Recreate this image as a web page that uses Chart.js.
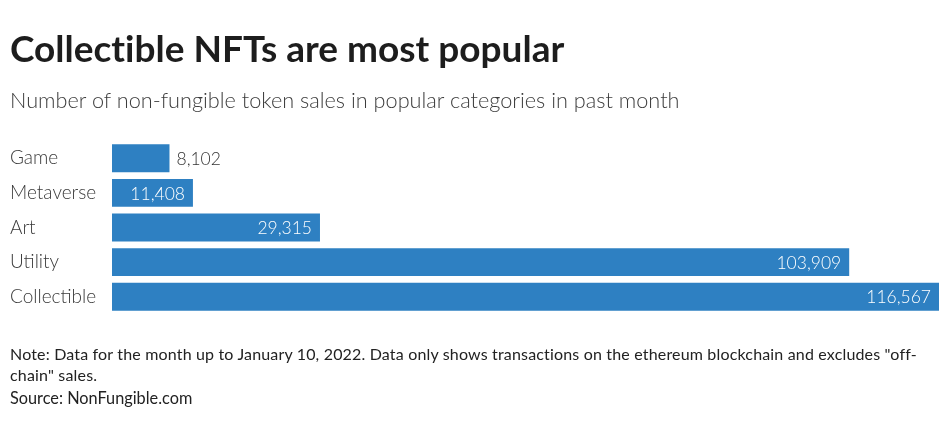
<!DOCTYPE html>
<html>
<head>
<meta charset="utf-8">
<script src="https://cdn.jsdelivr.net/npm/chart.js@4"></script>
<style>
  html,body{margin:0;padding:0;background:#fff;width:951px;height:424px;overflow:hidden;}
  #wrap{position:relative;width:951px;height:424px;}
  canvas{position:absolute;left:0;top:0;}
  .t{position:absolute;left:10px;white-space:nowrap;font-family:Lato,sans-serif;font-variant-ligatures:none;}
  #title{top:25px;font-size:37px;font-weight:700;color:#1d1d1d;}
  #sub{top:87px;font-size:21.7px;font-weight:300;color:#3c3c3c;}
  #note{top:343px;font-size:16px;line-height:21px;color:#222;letter-spacing:0.17px;}
  #src{top:388px;font-size:16.3px;color:#222;}
</style>
</head>
<body>
<div id="wrap">
  <canvas id="c" width="951" height="424"></canvas>
  <div class="t" id="title">Collectible NFTs are most popular</div>
  <div class="t" id="sub">Number of non-fungible token sales in popular categories in past month</div>
  <div class="t" id="note">Note: Data for the month up to January 10, 2022. Data only shows transactions on the ethereum blockchain and excludes "off-<br>chain" sales.</div>
  <div class="t" id="src">Source: NonFungible.com</div>
</div>
<script>
const categories = ["Game", "Metaverse", "Art", "Utility", "Collectible"];
const sales = [8102, 11408, 29315, 103909, 116567];
const valueLabels = ["8,102", "11,408", "29,315", "103,909", "116,567"];

const barColor = "#2e80c2";

const valueLabelPlugin = {
  id: "valueLabels",
  afterDatasetsDraw(chart) {
    const ctx = chart.ctx;
    const meta = chart.getDatasetMeta(0);
    ctx.save();
    ctx.font = "300 17.5px Lato, sans-serif";
    ctx.textBaseline = "middle";
    meta.data.forEach((bar, i) => {
      const txt = valueLabels[i];
      const w = ctx.measureText(txt).width;
      const barW = bar.x - bar.base;
      if (barW < w + 16) {
        ctx.fillStyle = "#333";
        ctx.textAlign = "left";
        ctx.fillText(txt, bar.x + 7, bar.y + 1);
      } else {
        ctx.fillStyle = "#ffffff";
        ctx.textAlign = "right";
        ctx.fillText(txt, bar.x - 8, bar.y + 1);
      }
    });
    ctx.restore();
  }
};

new Chart(document.getElementById("c"), {
  type: "bar",
  data: {
    labels: categories,
    datasets: [{
      data: sales,
      backgroundColor: barColor,
      borderWidth: 0,
      categoryPercentage: 1,
      barPercentage: 0.806
    }]
  },
  options: {
    indexAxis: "y",
    responsive: false,
    animation: false,
    devicePixelRatio: 1,
    layout: { padding: { left: 10, right: 12, top: 141, bottom: 110 } },
    plugins: { legend: { display: false }, tooltip: { enabled: false }, title: { display: false } },
    scales: {
      x: {
        display: false,
        min: 0,
        max: Math.max(...sales)
      },
      y: {
        grid: { display: false },
        border: { display: false },
        afterFit(axis) { axis.width = 102; },
        ticks: {
          crossAlign: "far",
          padding: 0,
          color: "#3a3a3a",
          font: { family: "Lato, sans-serif", size: 19, weight: "300" }
        }
      }
    }
  },
  plugins: [valueLabelPlugin]
});
</script>
</body>
</html>
